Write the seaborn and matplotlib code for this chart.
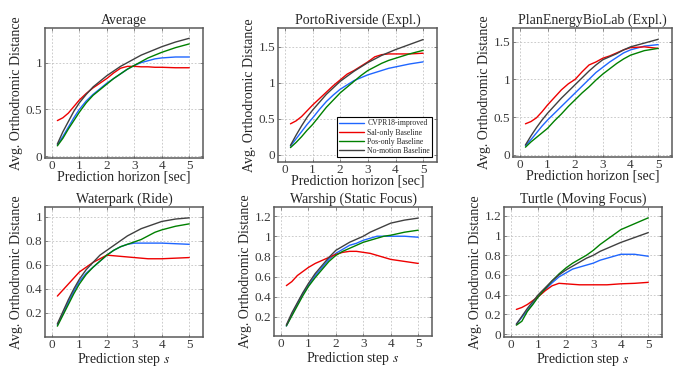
import numpy as np
import pandas as pd
import matplotlib
matplotlib.use("Agg")
import matplotlib.pyplot as plt
import seaborn as sns
from matplotlib.ticker import FuncFormatter

# ---------------- data ----------------
steps = [0.2, 0.4, 0.6, 0.8, 1.0, 1.25, 1.5, 1.75, 2.0, 2.25, 2.5, 2.75,
         3.0, 3.25, 3.5, 3.75, 4.0, 4.5, 5.0]
series_names = ["CVPR18-improved", "Sal-only Baseline", "Pos-only Baseline", "No-motion Baseline"]

avg_cvpr = [0.12, 0.21, 0.31, 0.41, 0.50, 0.59, 0.66, 0.72, 0.78, 0.83, 0.88, 0.93, 0.97, 1.00, 1.02, 1.04, 1.05, 1.06, 1.06]
avg_sal = [0.38, 0.41, 0.46, 0.53, 0.60, 0.67, 0.73, 0.78, 0.83, 0.89, 0.94, 0.96, 0.96, 0.955, 0.955, 0.95, 0.95, 0.945, 0.945]
avg_pos = [0.11, 0.19, 0.29, 0.38, 0.47, 0.57, 0.65, 0.71, 0.77, 0.83, 0.88, 0.93, 0.97, 1.01, 1.05, 1.08, 1.11, 1.16, 1.20]
avg_nomo = [0.13, 0.26, 0.37, 0.48, 0.57, 0.66, 0.74, 0.80, 0.86, 0.91, 0.96, 1.00, 1.04, 1.08, 1.11, 1.14, 1.17, 1.22, 1.26]

porto_cvpr = [0.12, 0.22, 0.32, 0.42, 0.51, 0.63, 0.74, 0.83, 0.91, 0.97, 1.03, 1.07, 1.11, 1.14, 1.17, 1.20, 1.22, 1.26, 1.29]
porto_sal = [0.43, 0.47, 0.53, 0.61, 0.69, 0.78, 0.87, 0.96, 1.04, 1.12, 1.17, 1.23, 1.29, 1.36, 1.39, 1.40, 1.40, 1.40, 1.41]
porto_pos = [0.10, 0.17, 0.25, 0.34, 0.42, 0.54, 0.66, 0.76, 0.86, 0.94, 1.02, 1.10, 1.17, 1.22, 1.27, 1.31, 1.34, 1.40, 1.45]
porto_nomo = [0.13, 0.27, 0.40, 0.52, 0.62, 0.73, 0.84, 0.93, 1.02, 1.09, 1.16, 1.22, 1.28, 1.33, 1.38, 1.42, 1.46, 1.53, 1.60]

plan_cvpr = [0.12, 0.20, 0.29, 0.38, 0.46, 0.55, 0.64, 0.73, 0.82, 0.91, 1.00, 1.09, 1.16, 1.23, 1.29, 1.35, 1.39, 1.44, 1.46]
plan_sal = [0.41, 0.44, 0.49, 0.57, 0.66, 0.76, 0.86, 0.94, 1.00, 1.10, 1.19, 1.23, 1.28, 1.31, 1.35, 1.39, 1.42, 1.43, 1.41]
plan_pos = [0.10, 0.17, 0.23, 0.29, 0.35, 0.45, 0.54, 0.64, 0.73, 0.82, 0.90, 0.99, 1.07, 1.14, 1.21, 1.27, 1.32, 1.38, 1.41]
plan_nomo = [0.13, 0.25, 0.36, 0.46, 0.55, 0.65, 0.75, 0.84, 0.93, 1.02, 1.11, 1.19, 1.26, 1.30, 1.34, 1.39, 1.43, 1.48, 1.53]

water_cvpr = [0.10, 0.19, 0.29, 0.38, 0.46, 0.53, 0.58, 0.63, 0.68, 0.72, 0.75, 0.77, 0.78, 0.78, 0.78, 0.78, 0.78, 0.775, 0.77]
water_sal = [0.34, 0.39, 0.44, 0.49, 0.54, 0.58, 0.62, 0.65, 0.68, 0.675, 0.67, 0.665, 0.66, 0.655, 0.65, 0.65, 0.65, 0.655, 0.66]
water_pos = [0.09, 0.18, 0.27, 0.36, 0.44, 0.52, 0.58, 0.63, 0.68, 0.72, 0.75, 0.77, 0.79, 0.81, 0.84, 0.87, 0.89, 0.92, 0.94]
water_nomo = [0.11, 0.21, 0.31, 0.40, 0.48, 0.56, 0.62, 0.68, 0.72, 0.76, 0.80, 0.84, 0.87, 0.90, 0.92, 0.94, 0.96, 0.98, 0.99]

war_cvpr = [0.11, 0.22, 0.33, 0.43, 0.51, 0.61, 0.69, 0.77, 0.83, 0.87, 0.91, 0.93, 0.96, 0.98, 1.00, 1.00, 1.00, 1.00, 0.99]
war_sal = [0.51, 0.55, 0.61, 0.65, 0.69, 0.73, 0.76, 0.79, 0.82, 0.84, 0.85, 0.85, 0.84, 0.83, 0.81, 0.79, 0.77, 0.75, 0.73]
war_pos = [0.11, 0.21, 0.31, 0.41, 0.50, 0.59, 0.67, 0.75, 0.81, 0.85, 0.88, 0.91, 0.94, 0.96, 0.98, 1.00, 1.01, 1.04, 1.06]
war_nomo = [0.12, 0.24, 0.34, 0.44, 0.53, 0.63, 0.71, 0.79, 0.86, 0.90, 0.94, 0.97, 1.00, 1.04, 1.07, 1.10, 1.13, 1.16, 1.18]

turtle_cvpr = [0.10, 0.17, 0.24, 0.31, 0.38, 0.45, 0.52, 0.58, 0.62, 0.66, 0.68, 0.70, 0.72, 0.75, 0.77, 0.79, 0.81, 0.81, 0.79]
turtle_sal = [0.25, 0.27, 0.30, 0.34, 0.38, 0.44, 0.49, 0.515, 0.51, 0.505, 0.50, 0.50, 0.50, 0.50, 0.50, 0.505, 0.51, 0.515, 0.525]
turtle_pos = [0.09, 0.13, 0.23, 0.30, 0.38, 0.46, 0.54, 0.61, 0.67, 0.72, 0.76, 0.80, 0.85, 0.91, 0.96, 1.01, 1.06, 1.12, 1.18]
turtle_nomo = [0.10, 0.18, 0.26, 0.33, 0.40, 0.47, 0.54, 0.60, 0.65, 0.69, 0.73, 0.77, 0.80, 0.84, 0.87, 0.90, 0.93, 0.98, 1.03]

titles = ["Average", "PortoRiverside (Expl.)", "PlanEnergyBioLab (Expl.)",
          "Waterpark (Ride)", "Warship (Static Focus)", "Turtle (Moving Focus)"]
xlabels = ["Prediction horizon [sec]"] * 3 + ["Prediction step $s$"] * 3
ylabel = "Avg. Orthodromic Distance"
yticks_list = [[0, 0.5, 1], [0, 0.5, 1, 1.5], [0, 0.5, 1, 1.5],
               [0.2, 0.4, 0.6, 0.8, 1.0], [0.2, 0.4, 0.6, 0.8, 1.0, 1.2],
               [0, 0.2, 0.4, 0.6, 0.8, 1.0, 1.2]]
xticks = [0, 1, 2, 3, 4, 5]

panels = [
    (avg_cvpr, avg_sal, avg_pos, avg_nomo),
    (porto_cvpr, porto_sal, porto_pos, porto_nomo),
    (plan_cvpr, plan_sal, plan_pos, plan_nomo),
    (water_cvpr, water_sal, water_pos, water_nomo),
    (war_cvpr, war_sal, war_pos, war_nomo),
    (turtle_cvpr, turtle_sal, turtle_pos, turtle_nomo),
]

# ---------------- layout / style ----------------
W, H = 678, 368
boxes_px = [  # (left, top, right, bottom) in pixels
    (45, 28, 203, 158), (278, 28, 437, 162), (513, 28, 672, 157),
    (45, 207, 203, 337), (274, 207, 432, 336), (504, 207, 662, 337),
]
ylims = [(-0.02, 1.37), (-0.1, 1.76), (-0.03, 1.68),
         (0.0, 1.08), (0.01, 1.29), (-0.03, 1.29)]
xlim = (-0.25, 5.5)

palette = {"CVPR18-improved": "#1f66ff", "Sal-only Baseline": "#ee0000",
           "Pos-only Baseline": "#008000", "No-motion Baseline": "#404040"}

sns.set_theme(style="ticks")
plt.rcParams["font.family"] = ["Liberation Serif", "DejaVu Serif"]
plt.rcParams["mathtext.fontset"] = "stix"

fig = plt.figure(figsize=(W / 100, H / 100), dpi=100)
fig.patch.set_facecolor("white")


def fmt(v, pos):
    return "%g" % round(v, 3)


for i, (vals, title, xl, yt, box, yl) in enumerate(
        zip(panels, titles, xlabels, yticks_list, boxes_px, ylims)):
    l, t, r, b = box
    ax = fig.add_axes([l / W, 1 - b / H, (r - l) / W, (b - t) / H])
    df = pd.concat([pd.DataFrame({"step": steps, "dist": v, "method": n})
                    for v, n in zip(vals, series_names)], ignore_index=True)
    sns.lineplot(data=df, x="step", y="dist", hue="method", hue_order=series_names,
                 palette=palette, linewidth=1.0, ax=ax, legend=(i == 1),
                 estimator=None, sort=False)
    ax.set_xlim(*xlim)
    ax.set_ylim(*yl)
    ax.set_xticks(xticks)
    ax.set_yticks(yt)
    ax.xaxis.set_major_formatter(FuncFormatter(fmt))
    ax.yaxis.set_major_formatter(FuncFormatter(fmt))
    ax.grid(True, color="#b8b8b8", linestyle=(0, (2.5, 2.5)), linewidth=0.5)
    ax.set_axisbelow(True)
    for s in ax.spines.values():
        s.set_visible(True)
        s.set_color("#5a5a5a")
        s.set_linewidth(1.1)
    ax.tick_params(direction="in", length=2.5, width=0.5, top=True, right=True,
                   labelsize=9.5, pad=2, colors="#5a5a5a", labelcolor="#3a3a3a")
    ax.tick_params(axis="x", pad=1.5)
    ax.set_title(title, fontsize=10, pad=3)
    ax.set_xlabel(xl, fontsize=10, labelpad=(-1 if i < 3 else 0.0))
    ax.set_ylabel(ylabel, fontsize=10, labelpad=2)
    if i == 1:
        leg = ax.legend(loc="lower right", bbox_to_anchor=(0.97, 0.035),
                        fontsize=5.6, frameon=True, fancybox=False,
                        handlelength=3.2, handletextpad=0.4, labelspacing=0.15,
                        borderpad=0.3, borderaxespad=0)
        leg.get_frame().set_edgecolor("black")
        leg.get_frame().set_linewidth(0.8)
        leg.get_frame().set_alpha(1)

fig.savefig("out.png", dpi=100, facecolor="white")
